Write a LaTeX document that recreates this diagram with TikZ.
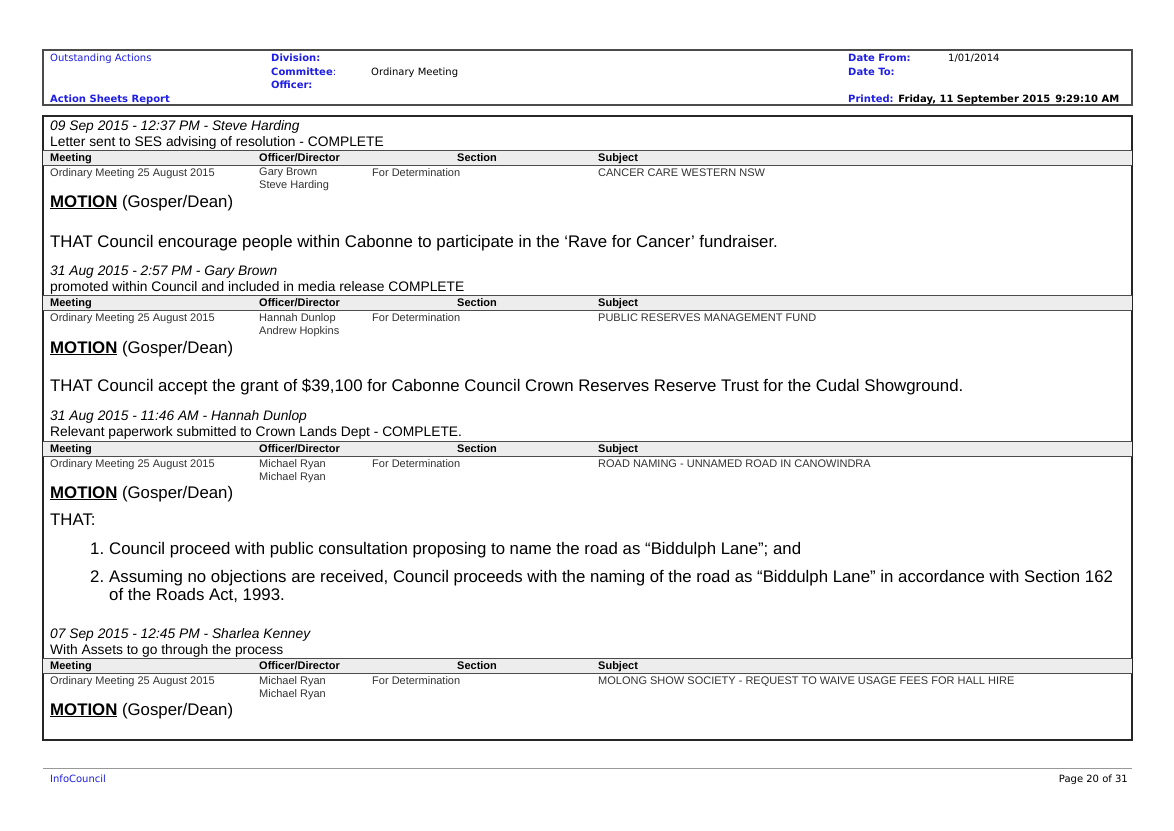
\documentclass[tikz,border=0pt]{standalone}
\usepackage{fontspec}
\setmainfont{Liberation Sans}
\newfontfamily\verd{DejaVu Sans}
\definecolor{hdblue}{RGB}{30,30,230}
\tikzset{
  txt/.style={anchor=base west, inner sep=0pt},
  hd/.style={txt, font=\verd\fontsize{10}{12}\selectfont},
  hdb/.style={hd, text=hdblue, font=\verd\bfseries\fontsize{10}{12}\selectfont},
  stamp/.style={txt, font=\itshape\fontsize{13.8}{15}\selectfont},
  note/.style={txt, font=\fontsize{13.8}{15}\selectfont},
  colh/.style={txt, font=\bfseries\fontsize{11}{13}\selectfont},
  cell/.style={txt, font=\fontsize{11}{13}\selectfont, text=black!80},
  big/.style={txt, font=\fontsize{16.8}{20}\selectfont}
}
% column header band at y
\newcommand\colband[2]{%
  \fill[black!7] (43,#1) rectangle (1132,#1+15);
  \draw[black!70] (43,#1) -- (1132,#1) (43,#1+15) -- (1132,#1+15);
  \node[colh] (#2m) at (50,#1+11) {Meeting};
  \node[colh] (#2o) at (259,#1+11) {Officer/Director};
  \node[colh] (#2s) at (457,#1+11) {Section};
  \node[colh] (#2j) at (598,#1+11) {Subject};}
\newcommand\motion[2]{\node[big] (#2) at (50,#1) {\textbf{\underline{MOTION}} (Gosper/Dean)};}
\begin{document}
\begin{tikzpicture}[x=1pt,y=-1pt]
\useasboundingbox[fill=white] (0,0) rectangle (1174,830);
% page header
\draw[black!70, line width=1.2] (43,50) rectangle (1132,105);
\node[hd, text=hdblue] (title) at (50,61) {Outstanding Actions};
\node[hdb] (report) at (50,102) {Action Sheets Report};
\node[hdb] (div) at (271,61) {Division:};
\node[hdb] (com) at (271,75) {Committee\textmd{:}};
\node[hd] (comv) at (371,75) {Ordinary Meeting};
\node[hdb] (off) at (271,88) {Officer:};
\node[hdb] (dfrom) at (848,61) {Date From:};
\node[hd] (dfromv) at (948,61) {1/01/2014};
\node[hdb] (dto) at (848,75) {Date To:};
\node[hdb] (prn) at (848,102) {Printed: \textcolor{black}{Friday, 11 September 2015\enspace 9:29:10 AM}};
% body box
\draw[black!85, line width=1.6] (43,116) rectangle (1132,740);
% entry 1
\node[stamp] (s1) at (50,130) {09 Sep 2015 - 12:37 PM - Steve Harding};
\node[note] (n1) at (50,146) {Letter sent to SES advising of resolution - COMPLETE};
\colband{150}{a}
\node[cell] (a1) at (50,176) {Ordinary Meeting 25 August 2015};
\node[cell, align=left, anchor=north west] (a2) at (259,168) {Gary Brown\\Steve Harding};
\node[cell] (a3) at (372,176) {For Determination};
\node[cell] (a4) at (598,176) {CANCER CARE WESTERN NSW};
\motion{207}{m1}
\node[big] (t1) at (50,247) {THAT Council encourage people within Cabonne to participate in the `Rave for Cancer' fundraiser.};
% entry 2
\node[stamp] (s2) at (50,275) {31 Aug 2015 - 2:57 PM - Gary Brown};
\node[note] (n2) at (50,291) {promoted within Council and included in media release COMPLETE};
\colband{295}{b}
\node[cell] (b1) at (50,321) {Ordinary Meeting 25 August 2015};
\node[cell, align=left, anchor=north west] (b2) at (259,313) {Hannah Dunlop\\Andrew Hopkins};
\node[cell] (b3) at (372,321) {For Determination};
\node[cell] (b4) at (598,321) {PUBLIC RESERVES MANAGEMENT FUND};
\motion{353}{m2}
\node[big] (t2) at (50,391) {THAT Council accept the grant of \$39,100 for Cabonne Council Crown Reserves Reserve Trust for the Cudal Showground.};
% entry 3
\node[stamp] (s3) at (50,420) {31 Aug 2015 - 11:46 AM - Hannah Dunlop};
\node[note] (n3) at (50,436) {Relevant paperwork submitted to Crown Lands Dept - COMPLETE.};
\colband{441}{c}
\node[cell] (c1) at (50,467) {Ordinary Meeting 25 August 2015};
\node[cell, align=left, anchor=north west] (c2) at (259,459) {Michael Ryan\\Michael Ryan};
\node[cell] (c3) at (372,467) {For Determination};
\node[cell] (c4) at (598,467) {ROAD NAMING - UNNAMED ROAD IN CANOWINDRA};
\motion{498}{m3}
\node[big] (t3) at (50,525) {THAT:};
\node[big] (l1) at (90,554) {1.};
\node[big] (l1t) at (109,554) {Council proceed with public consultation proposing to name the road as ``Biddulph Lane''; and};
\node[big] (l2) at (90,582) {2.};
\node[big] (l2t) at (109,582) {Assuming no objections are received, Council proceeds with the naming of the road as ``Biddulph Lane'' in accordance with Section 162};
\node[big] (l2u) at (109,600) {of the Roads Act, 1993.};
% entry 4
\node[stamp] (s4) at (50,638) {07 Sep 2015 - 12:45 PM - Sharlea Kenney};
\node[note] (n4) at (50,654) {With Assets to go through the process};
\colband{658}{d}
\node[cell] (d1) at (50,684) {Ordinary Meeting 25 August 2015};
\node[cell, align=left, anchor=north west] (d2) at (259,676) {Michael Ryan\\Michael Ryan};
\node[cell] (d3) at (372,684) {For Determination};
\node[cell] (d4) at (598,684) {MOLONG SHOW SOCIETY - REQUEST TO WAIVE USAGE FEES FOR HALL HIRE};
\motion{715}{m4}
% footer
\draw[black!40] (43,768) -- (1132,768);
\node[hd, text=hdblue] (foot) at (50,782) {InfoCouncil};
\node[hd, anchor=base east] (page) at (1128,782) {Page 20 of 31};
\end{tikzpicture}
\end{document}
